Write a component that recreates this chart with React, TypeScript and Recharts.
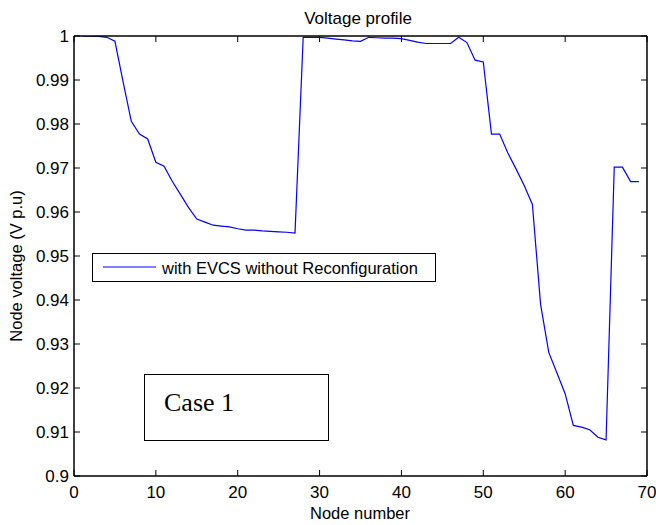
import { LineChart, Line, XAxis, YAxis, Legend } from 'recharts';

const nodes = [
  1, 2, 3, 4, 5, 6, 7, 8, 9, 10, 11, 12, 13, 14, 15, 16, 17, 18, 19, 20, 21, 22, 23,
  24, 25, 26, 27, 28, 29, 30, 31, 32, 33, 34, 35, 36, 37, 38, 39, 40, 41, 42, 43, 44,
  45, 46, 47, 48, 49, 50, 51, 52, 53, 54, 55, 56, 57, 58, 59, 60, 61, 62, 63, 64, 65,
  66, 67, 68, 69,
];

const voltage = [
  1.0, 0.99997, 0.9999, 0.9997, 0.9988, 0.9896, 0.9806, 0.9777, 0.9766, 0.9713, 0.9704,
  0.967, 0.964, 0.961, 0.9584, 0.9577, 0.957, 0.9568, 0.9566, 0.9562, 0.9559, 0.9559,
  0.9557, 0.9556, 0.9555, 0.9554, 0.9552, 0.9997, 0.9997, 0.9997, 0.9995, 0.9993, 0.9991,
  0.9989, 0.9988, 0.9997, 0.9996, 0.9995, 0.9995, 0.9994, 0.999, 0.9986, 0.9983, 0.9983,
  0.9983, 0.9983, 0.9997, 0.9985, 0.9945, 0.9941, 0.9777, 0.9777, 0.9734, 0.9698, 0.966,
  0.9617, 0.939, 0.9281, 0.9234, 0.9187, 0.9115, 0.9111, 0.9105, 0.9088, 0.9082, 0.9702,
  0.9702, 0.9669, 0.9669,
];

const xTicks = [0, 10, 20, 30, 40, 50, 60, 70];
const yTicks = [0.9, 0.91, 0.92, 0.93, 0.94, 0.95, 0.96, 0.97, 0.98, 0.99, 1];

const seriesName = 'with EVCS without Reconfiguration';

const data = nodes.map((n, i) => ({ node: n, v: voltage[i] }));

const FONT = '"Liberation Sans", Arial, sans-serif';
const TICK = 6;

const fmt = (v: number) => String(Number(v.toFixed(2)));

function BottomTick({ x, y, payload }: any) {
  return (
    <g>
      <line x1={x} x2={x} y1={y} y2={y - TICK} stroke="#000" />
      <text x={x} y={y + 22} textAnchor="middle" fontSize={17} fontFamily={FONT} fill="#000">
        {payload.value}
      </text>
    </g>
  );
}

function TopTick({ x, y }: any) {
  return <line x1={x} x2={x} y1={y} y2={y + TICK} stroke="#000" />;
}

function LeftTick({ x, y, payload }: any) {
  return (
    <g>
      <line x1={x} x2={x + TICK} y1={y} y2={y} stroke="#000" />
      <text x={x - 5} y={y} dy="0.36em" textAnchor="end" fontSize={17} fontFamily={FONT} fill="#000">
        {fmt(payload.value)}
      </text>
    </g>
  );
}

function RightTick({ x, y }: any) {
  return <line x1={x} x2={x - TICK} y1={y} y2={y} stroke="#000" />;
}

function LegendBox() {
  return (
    <div
      style={{
        width: 344,
        height: 29,
        boxSizing: 'border-box',
        border: '1px solid #000',
        background: '#fff',
        position: 'relative',
      }}
    >
      <svg width={344} height={29} style={{ position: 'absolute', left: -1, top: -1 }}>
        <line x1={11} x2={64} y1={14} y2={14} stroke="#0000ff" strokeWidth={1.2} />
        <text x={70} y={20.5} fontSize={16.5} fontFamily={FONT} fill="#000">
          {seriesName}
        </text>
      </svg>
    </div>
  );
}

export default function App() {
  return (
    <div style={{ position: 'relative', width: 656, height: 525, background: '#fff' }}>
      <style>{'body{margin:0}'}</style>
      <LineChart
        width={656}
        height={525}
        data={data}
        margin={{ top: 0, right: 0, bottom: 0, left: 0 }}
      >
        <XAxis
          xAxisId="b"
          dataKey="node"
          type="number"
          domain={[0, 70]}
          ticks={xTicks}
          height={49}
          tickSize={0}
          tickMargin={0}
          tick={<BottomTick />}
          axisLine={{ stroke: '#000', strokeWidth: 1.5 }}
          tickLine={false}
          interval={0}
        />
        <XAxis
          xAxisId="t"
          orientation="top"
          dataKey="node"
          type="number"
          domain={[0, 70]}
          ticks={xTicks}
          height={36}
          tickSize={0}
          tickMargin={0}
          tick={<TopTick />}
          axisLine={{ stroke: '#000', strokeWidth: 1.5 }}
          tickLine={false}
          interval={0}
        />
        <YAxis
          yAxisId="l"
          type="number"
          domain={[0.9, 1]}
          ticks={yTicks}
          width={74}
          tickSize={0}
          tickMargin={0}
          tick={<LeftTick />}
          axisLine={{ stroke: '#000', strokeWidth: 1.5 }}
          tickLine={false}
          interval={0}
          allowDataOverflow
        />
        <YAxis
          yAxisId="r"
          orientation="right"
          type="number"
          domain={[0.9, 1]}
          ticks={yTicks}
          width={9}
          tickSize={0}
          tickMargin={0}
          tick={<RightTick />}
          axisLine={{ stroke: '#000', strokeWidth: 1.5 }}
          tickLine={false}
          interval={0}
          allowDataOverflow
        />
        <Line
          xAxisId="t"
          yAxisId="r"
          dataKey="v"
          stroke="none"
          dot={false}
          legendType="none"
          isAnimationActive={false}
        />
        <Line
          xAxisId="b"
          yAxisId="l"
          type="linear"
          dataKey="v"
          name={seriesName}
          stroke="#0000ff"
          strokeWidth={1.2}
          dot={false}
          isAnimationActive={false}
        />
        <Legend
          layout="vertical"
          align="center"
          verticalAlign="middle"
          content={() => <LegendBox />}
          wrapperStyle={{ position: 'absolute', left: 92, top: 253, width: 344, height: 29 }}
        />
      </LineChart>
      <svg
        width={656}
        height={525}
        style={{ position: 'absolute', left: 0, top: 0, pointerEvents: 'none' }}
      >
        <text x={358} y={24} textAnchor="middle" fontSize={17} fontFamily={FONT} fill="#000">
          Voltage profile
        </text>
        <text x={360} y={519} textAnchor="middle" fontSize={16.5} fontFamily={FONT} fill="#000">
          Node number
        </text>
        <text
          transform="translate(22,266) rotate(-90)"
          textAnchor="middle"
          fontSize={16.5}
          fontFamily={FONT}
          fill="#000"
        >
          Node voltage (V p.u)
        </text>
        <rect x={144.5} y={374.5} width={184} height={66} fill="#fff" stroke="#000" strokeWidth={1} />
        <text x={164} y={411} fontSize={26} fontFamily='"Liberation Serif", "Times New Roman", serif' fill="#000">
          Case 1
        </text>
      </svg>
    </div>
  );
}
